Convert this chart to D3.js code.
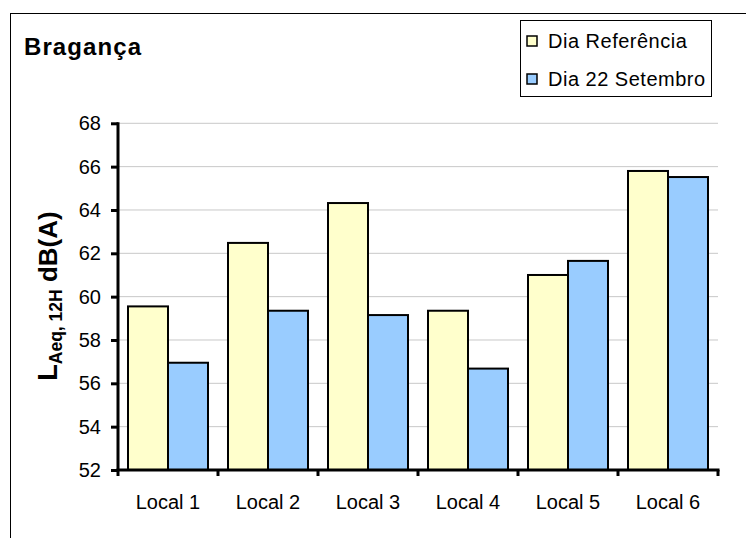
<!DOCTYPE html>
<html><head><meta charset="utf-8">
<script src="https://cdn.jsdelivr.net/npm/d3@7"></script>
<style>body{margin:0;background:#fff}svg{display:block}text{font-family:"Liberation Sans",Arial,sans-serif}</style>
</head><body><svg id="c" width="746" height="538"></svg>
<script>
const categories = ["Local 1","Local 2","Local 3","Local 4","Local 5","Local 6"];
const seriesNames = ["Dia Referência","Dia 22 Setembro"];
const diaReferencia = [59.55, 62.48, 64.32, 59.35, 61.0, 65.8];
const dia22Setembro = [56.95, 59.35, 59.15, 56.68, 61.65, 65.52];
const yTicks = [52,54,56,58,60,62,64,66,68];
const colors = ["#FFFFCC","#99CCFF"];
const title = "Bragança";

const svg = d3.select("#c");
const L = 118, R = 718, T = 123.3, B = 470;
// outer frame
svg.append("rect").attr("x",10.5).attr("y",13.5).attr("width",800).attr("height",600)
  .attr("fill","none").attr("stroke","#000").attr("stroke-width",1);

const x = d3.scaleBand().domain(categories).range([L,R]).paddingInner(0).paddingOuter(0);
const xs = d3.scaleBand().domain(seriesNames).range([0,x.bandwidth()]).paddingInner(0).paddingOuter(0.25);
const y = d3.scaleLinear().domain([52,68]).range([B,T]);

// gridlines
svg.append("g").selectAll("line").data(yTicks.slice(1)).join("line")
  .attr("x1",L).attr("x2",R).attr("y1",d=>y(d)).attr("y2",d=>y(d))
  .attr("stroke","#c8c8c8").attr("stroke-width",1);

const series = [diaReferencia, dia22Setembro];
series.forEach((vals,si)=>{
  svg.append("g").selectAll("rect").data(vals).join("rect")
    .attr("x",(d,i)=>x(categories[i])+xs(seriesNames[si]))
    .attr("y",d=>y(d)).attr("width",xs.bandwidth()).attr("height",d=>B-y(d))
    .attr("fill",colors[si]).attr("stroke","#000").attr("stroke-width",2);
});

// y axis
const ya = svg.append("g").attr("transform",`translate(${L},0)`)
  .call(d3.axisLeft(y).tickValues(yTicks).tickSize(7).tickPadding(10).tickFormat(d3.format("d")));
ya.select(".domain").attr("stroke-width",3).attr("d",`M0,${T-1}V${B+1}`);
ya.selectAll(".tick line").attr("stroke-width",3);
ya.selectAll(".tick text").attr("font-size",20).attr("fill","#000").attr("font-family","Liberation Sans, Arial, sans-serif");

// x axis
const xa = svg.append("g").attr("transform",`translate(0,${B})`)
  .call(d3.axisBottom(x).tickSize(0).tickPadding(0));
xa.select(".domain").remove();
xa.selectAll(".tick text").remove();
svg.append("line").attr("x1",L-1.5).attr("x2",R+1.5).attr("y1",B).attr("y2",B).attr("stroke","#000").attr("stroke-width",3);
const bounds = categories.map(c=>x(c)).concat([R]);
svg.append("g").selectAll("line").data(bounds).join("line")
  .attr("x1",d=>d).attr("x2",d=>d).attr("y1",B).attr("y2",B+6).attr("stroke","#000").attr("stroke-width",3);
svg.append("g").selectAll("text").data(categories).join("text")
  .attr("x",d=>x(d)+x.bandwidth()/2).attr("y",509).attr("text-anchor","middle")
  .attr("font-size",20).text(d=>d);

// title
svg.append("text").attr("x",24).attr("y",55).attr("font-size",24).attr("font-weight","bold")
  .attr("letter-spacing",1.1).text(title);

// y label
const yl = svg.append("text").attr("transform","translate(57,296) rotate(-90)")
  .attr("text-anchor","middle").attr("font-weight","bold");
yl.append("tspan").attr("font-size",27).text("L");
yl.append("tspan").attr("font-size",17.5).attr("dy",5).text("Aeq, 12H");
yl.append("tspan").attr("font-size",26).attr("dy",-5).text(" dB(A)");

// legend
const lg = svg.append("g");
lg.append("rect").attr("x",520.5).attr("y",20.5).attr("width",191).attr("height",76)
  .attr("fill","#fff").attr("stroke","#000").attr("stroke-width",1);
seriesNames.forEach((n,i)=>{
  const cy = 41 + i*38;
  lg.append("rect").attr("x",527).attr("y",cy-5).attr("width",10).attr("height",10)
    .attr("fill",colors[i]).attr("stroke","#000").attr("stroke-width",1.5);
  lg.append("text").attr("x",548).attr("y",cy+6.5).attr("font-size",20).attr("letter-spacing",0.5).text(n);
});
</script></body></html>
